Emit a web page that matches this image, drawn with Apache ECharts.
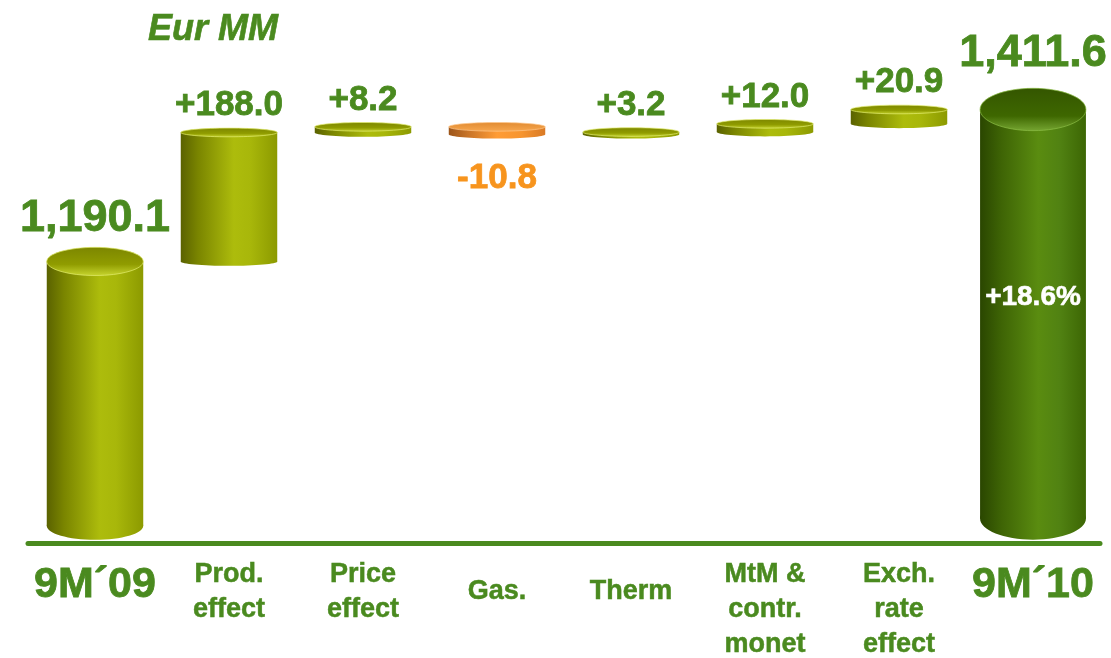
<!DOCTYPE html>
<html>
<head>
<meta charset="utf-8">
<script src="https://cdn.jsdelivr.net/npm/echarts@6/dist/echarts.min.js"></script>
<style>
html,body{margin:0;padding:0;background:#fff;}
#chart{width:1111px;height:658px;}
</style>
</head>
<body>
<div id="chart"></div>
<script>
// ---- data ----
const categories = ['9M´09', 'Prod.\neffect', 'Price\neffect', 'Gas.', 'Therm', 'MtM &\ncontr.\nmonet', 'Exch.\nrate\neffect', '9M´10'];
const startTotal = 1190.1;
const changes = [188.0, 8.2, -10.8, 3.2, 12.0, 20.9];
const endTotal = 1411.6;
const growthLabel = '+18.6%';
const unitLabel = 'Eur MM';

// ---- build waterfall rows from the arrays ----
const rows = [];
const kinds = [];
const labels = [];
function fmtTotal(v){ return v.toLocaleString('en-US',{minimumFractionDigits:1, maximumFractionDigits:1}); }
function fmtChange(v){ return (v >= 0 ? '+' : '-') + Math.abs(v).toFixed(1); }
rows.push([0, 0, startTotal]); kinds.push('start'); labels.push(fmtTotal(startTotal));
let run = startTotal;
changes.forEach((c, i) => {
  const a = run, b = run + c;
  rows.push([i + 1, Math.min(a, b), Math.max(a, b)]);
  kinds.push(c >= 0 ? 'up' : 'down');
  labels.push(fmtChange(c));
  run = b;
});
rows.push([changes.length + 1, 0, endTotal]); kinds.push('end'); labels.push(fmtTotal(endTotal));

// ---- styles ----
const GREEN_TXT = '#4a8a1f';
const ORANGE_TXT = '#f7941d';
function lin(stops){ return {type:'linear', x:0, y:0, x2:1, y2:0, colorStops: stops.map(s=>({offset:s[0], color:s[1]}))}; }
function vlin(stops){ return {type:'linear', x:0, y:0, x2:0, y2:1, colorStops: stops.map(s=>({offset:s[0], color:s[1]}))}; }
const yellowBody = lin([[0,'#5a6200'],[0.18,'#7a8500'],[0.55,'#adbc0c'],[0.72,'#a8b70a'],[1,'#8c9a00']]);
const yellowCap = vlin([[0,'#7c8600'],[0.6,'#909c00'],[1,'#c8d630']]);
const greenBody = lin([[0,'#2a4600'],[0.2,'#3e6405'],[0.55,'#5a8c10'],[0.75,'#518212'],[1,'#3c6604']]);
const greenCap = vlin([[0,'#345600'],[0.65,'#3e6700'],[1,'#76a632']]);
const orangeBody = lin([[0,'#9c551a'],[0.2,'#c87428'],[0.5,'#ff9c35'],[0.75,'#f7952f'],[1,'#d97a25']]);
const orangeCap = vlin([[0,'#e08a30'],[1,'#f8a850']]);
const styleByKind = {
  start: {body: yellowBody, cap: yellowCap, rim:'rgba(225,235,110,0.7)', w:0.72, cap_r:0.146, font:45, txt:GREEN_TXT, gap:6},
  up:    {body: yellowBody, cap: yellowCap, rim:'rgba(225,235,110,0.7)', w:0.72, cap_r:0.045, font:35, txt:GREEN_TXT, gap:5},
  down:  {body: orangeBody, cap: orangeCap, rim:'rgba(255,200,140,0.7)', w:0.72, cap_r:0.045, font:35, txt:ORANGE_TXT, gap:22},
  end:   {body: greenBody,  cap: greenCap,  rim:'rgba(140,190,70,0.7)', w:0.79, cap_r:0.2,   font:45, txt:GREEN_TXT, gap:12}
};
const FONT = '"Liberation Sans", Arial, sans-serif';

function renderItem(params, api){
  const i = params.dataIndex;
  const kind = kinds[i];
  const st = styleByKind[kind];
  const idx = api.value(0);
  const top = api.coord([idx, api.value(2)]);
  const bot = api.coord([idx, api.value(1)]);
  const band = api.size([1, 0])[0];
  const floorY = params.coordSys.y + params.coordSys.height;
  const w = band * st.w;
  const rx = w / 2;
  const ry = w * st.cap_r;
  const cx = top[0];
  const yt = top[1];
  let yb = Math.min(bot[1], floorY);
  const isTotal = (kind === 'start' || kind === 'end');
  if (isTotal) yb = yb - ry - 3;
  const children = [
    {type:'ellipse', shape:{cx:cx, cy:yb, rx:rx, ry:ry}, style:{fill:st.body}},
    {type:'rect', shape:{x:cx-rx, y:yt, width:w, height:Math.max(0, yb-yt)}, style:{fill:st.body}},
    {type:'ellipse', shape:{cx:cx, cy:yt, rx:rx, ry:ry}, style:{fill:st.cap, stroke:st.rim, lineWidth:1}}
  ];
  const txtStyle = {text:labels[i], fill:st.txt, stroke:st.txt, lineWidth:0.8, font:'bold '+st.font+'px '+FONT, align:'center'};
  if (kind === 'down') {
    children.push({type:'text', x:cx, y:yb + ry + st.gap, style:Object.assign({verticalAlign:'top'}, txtStyle)});
  } else {
    children.push({type:'text', x:cx, y:yt - ry - st.gap, style:Object.assign({verticalAlign:'bottom'}, txtStyle)});
  }
  if (kind === 'end') {
    children.push({type:'text', x:cx, y:yt + (yb - yt) * 0.46, style:{text:growthLabel, fill:'#ffffff', stroke:'#ffffff', lineWidth:0.6, font:'bold 28px '+FONT, align:'center', verticalAlign:'middle'}});
  }
  return {type:'group', children:children};
}

const chart = echarts.init(document.getElementById('chart'), null, {renderer:'canvas'});
chart.setOption({
  backgroundColor:'#ffffff',
  animation:false,
  title:{text:unitLabel, left:143, top:7, textStyle:{color:GREEN_TXT, fontSize:36, fontWeight:'bold', fontStyle:'italic', fontFamily:FONT, textBorderColor:GREEN_TXT, textBorderWidth:0.6}},
  grid:{left:28, right:11, top:90, bottom:113},
  xAxis:{
    type:'category', data:categories, boundaryGap:true,
    axisTick:{show:false},
    axisLine:{show:true, lineStyle:{color:'#4a8a1f', width:5}},
    axisLabel:{
      interval:0, margin:14, color:GREEN_TXT, fontFamily:FONT, fontWeight:'bold',
      formatter:function(v, i){
        const lines = v.split('\n');
        let s = 'small';
        if (i === 0 || i === categories.length - 1) s = 'big';
        else if (lines.length === 1) s = 'mid';
        return lines.map(l => '{' + s + '|' + l + '}').join('\n');
      },
      rich:{
        big:{fontSize:43, fontWeight:'bold', fontFamily:FONT, color:GREEN_TXT, lineHeight:56, textBorderColor:GREEN_TXT, textBorderWidth:0.8},
        small:{fontSize:27, fontWeight:'bold', fontFamily:FONT, color:GREEN_TXT, lineHeight:35, textBorderColor:GREEN_TXT, textBorderWidth:0.5},
        mid:{fontSize:27, fontWeight:'bold', fontFamily:FONT, color:GREEN_TXT, lineHeight:70, textBorderColor:GREEN_TXT, textBorderWidth:0.5}
      }
    }
  },
  yAxis:{type:'value', min:780, max:1440, show:false, splitLine:{show:false}},
  series:[{
    type:'custom', renderItem:renderItem, clip:false,
    encode:{x:0, y:[1,2]},
    data:rows
  }]
});
</script>
</body>
</html>
